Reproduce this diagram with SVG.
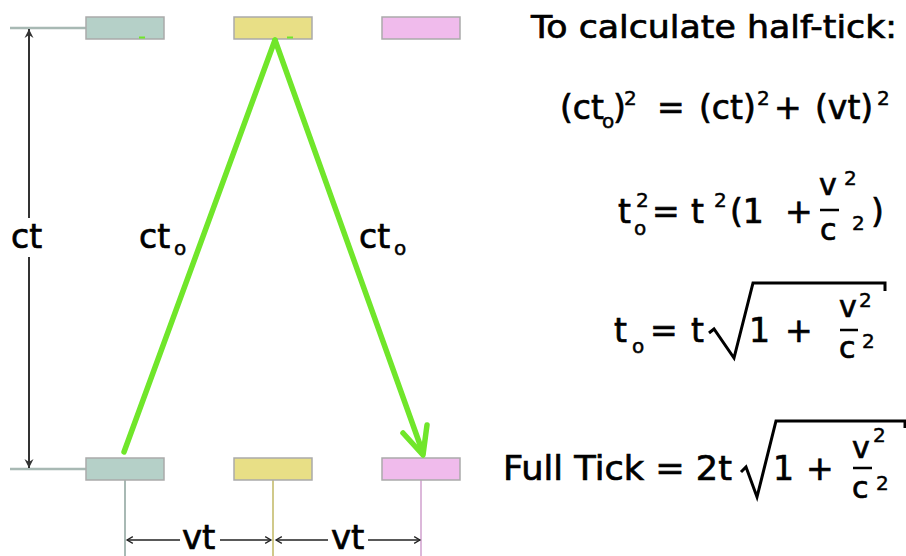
<svg xmlns="http://www.w3.org/2000/svg" width="906" height="556" viewBox="0 0 906 556">
<style>
text{font-family:"DejaVu Sans","Liberation Sans",sans-serif;fill:#000;stroke:#000;stroke-width:0.7px;font-size:33px}
.s{font-size:20px;stroke-width:0.5px}
.f{font-size:30px}
.box{stroke:#aaaaaa;stroke-width:1.5}
.teal{fill:#b5d0c8}
.yel{fill:#e8df86}
.pink{fill:#f0bbec}
.green{fill:none;stroke:#70e62a;stroke-width:5.5;stroke-linecap:round;stroke-linejoin:round}
.dim{fill:none;stroke:#333;stroke-width:2}
.vt{fill:none;stroke:#222;stroke-width:1.5}
.bar{stroke:#000;stroke-width:2.5}
.rad{fill:none;stroke:#000;stroke-width:3;stroke-linejoin:miter}
</style>
<defs>
<marker id="ah" viewBox="-10 -6 12 12" markerWidth="12" markerHeight="12" refX="0" refY="0" orient="auto" markerUnits="userSpaceOnUse">
<path d="M0,0 L-9,-4.5 L-6,0 L-9,4.5 z" fill="#333"/>
</marker>
<marker id="ah2" viewBox="-10 -6 12 12" markerWidth="10" markerHeight="10" refX="0" refY="0" orient="auto" markerUnits="userSpaceOnUse">
<path d="M-7,-4 L0,0 L-7,4" fill="none" stroke="#222" stroke-width="1.5"/>
</marker>
</defs>
<rect width="906" height="556" fill="#fff"/>
<g id="guides">
<line x1="10" y1="28" x2="86" y2="28" stroke="#a8b9b4" stroke-width="2.5"/>
<line x1="10" y1="469" x2="86" y2="469" stroke="#a8b9b4" stroke-width="2.5"/>
<line x1="125" y1="480" x2="125" y2="556" stroke="#a8b9b4" stroke-width="2"/>
<line x1="273" y1="480" x2="273" y2="556" stroke="#d0c98a" stroke-width="2"/>
<line x1="421" y1="480" x2="421" y2="556" stroke="#dcb8da" stroke-width="2"/>
</g>
<g id="clock-a-top"><rect class="box teal" x="86" y="17" width="78" height="22"/></g>
<g id="clock-b-top"><rect class="box yel" x="234" y="17" width="78" height="22"/></g>
<g id="clock-c-top"><rect class="box pink" x="382" y="17" width="78" height="22"/></g>
<g id="clock-a-bottom"><rect class="box teal" x="86" y="458" width="78" height="22"/></g>
<g id="clock-b-bottom"><rect class="box yel" x="234" y="458" width="78" height="22"/></g>
<g id="clock-c-bottom"><rect class="box pink" x="382" y="458" width="78" height="22"/></g>
<g id="connectors">
<line x1="139" y1="37.5" x2="145" y2="37.5" stroke="#70e62a" stroke-width="2"/>
<line x1="287" y1="37.5" x2="293" y2="37.5" stroke="#70e62a" stroke-width="2"/>
<path class="green" d="M275,40 L124,452"/>
<path class="green" d="M275,40 L423,453"/>
<path class="green" d="M403,433 L423,455 L427,425"/>
<line class="dim" x1="29" y1="218" x2="29" y2="29" marker-end="url(#ah)"/>
<line class="dim" x1="29" y1="257" x2="29" y2="468" marker-end="url(#ah)"/>
<line class="vt" x1="180" y1="540" x2="127" y2="540" marker-end="url(#ah2)"/>
<line class="vt" x1="220" y1="540" x2="271" y2="540" marker-end="url(#ah2)"/>
<line class="vt" x1="328" y1="540" x2="276" y2="540" marker-end="url(#ah2)"/>
<line class="vt" x1="368" y1="540" x2="420" y2="540" marker-end="url(#ah2)"/>
</g>
<g id="labels">
<text x="11" y="248">ct</text>
<text x="139" y="248">ct<tspan class="s" x="174" y="255">o</tspan></text>
<text x="359" y="248">ct<tspan class="s" x="394" y="255">o</tspan></text>
<text x="182" y="549" style="font-size:34px">vt</text>
<text x="331" y="549" style="font-size:34px">vt</text>
</g>
<g id="equations">
<text x="531" y="38" style="font-size:32px" textLength="366" lengthAdjust="spacingAndGlyphs">To calculate half-tick:</text>
<text id="eq1" x="560" y="119">(ct<tspan class="s" x="602" y="128">o</tspan><tspan x="613" y="119">)</tspan><tspan class="s" x="624" y="105">2</tspan><tspan x="657" y="119">=</tspan><tspan x="699" y="119">(ct)</tspan><tspan class="s" x="757" y="105">2</tspan><tspan x="774" y="119">+</tspan><tspan x="815" y="119">(vt)</tspan><tspan class="s" x="877" y="105">2</tspan></text>
<g id="eq2">
<text x="618" y="223">t<tspan class="s" x="636" y="207">2</tspan><tspan class="s" x="634" y="235">o</tspan><tspan x="652" y="223">=</tspan><tspan x="691" y="223">t</tspan><tspan class="s" x="714" y="207">2</tspan><tspan x="730" y="223">(1</tspan><tspan x="785" y="223">+</tspan><tspan class="f" x="819" y="195">v</tspan><tspan class="s" x="844" y="185">2</tspan><tspan class="f" x="820" y="240">c</tspan><tspan class="s" x="852" y="230">2</tspan><tspan x="871" y="223">)</tspan></text>
<line class="bar" x1="820" y1="210" x2="839" y2="210"/>
</g>
<g id="eq3">
<text x="614" y="342">t<tspan class="s" x="632" y="353">o</tspan><tspan x="650" y="342">=</tspan><tspan x="691" y="342">t</tspan><tspan x="749" y="342">1</tspan><tspan x="785" y="342">+</tspan><tspan class="f" x="839" y="317">v</tspan><tspan class="s" x="859" y="307">2</tspan><tspan class="f" x="839" y="358">c</tspan><tspan class="s" x="862" y="348">2</tspan></text>
<path class="rad" d="M709,333 L714,329 L734,358 L753,283 L885,283 L885,291"/>
<line class="bar" x1="840" y1="330" x2="858" y2="330"/>
</g>
<g id="eq4">
<text x="503" y="480" style="font-size:34px" textLength="229" lengthAdjust="spacingAndGlyphs">Full Tick = 2t</text>
<text x="773" y="480">1<tspan x="806" y="480">+</tspan><tspan class="f" x="852" y="458">v</tspan><tspan class="s" x="873" y="442">2</tspan><tspan class="f" x="852" y="498">c</tspan><tspan class="s" x="876" y="490">2</tspan></text>
<path class="rad" d="M741,472 L746,467 L757,497 L776,421 L905,421 L905,428"/>
<line class="bar" x1="853" y1="468" x2="872" y2="468"/>
</g>
</g>
</svg>
